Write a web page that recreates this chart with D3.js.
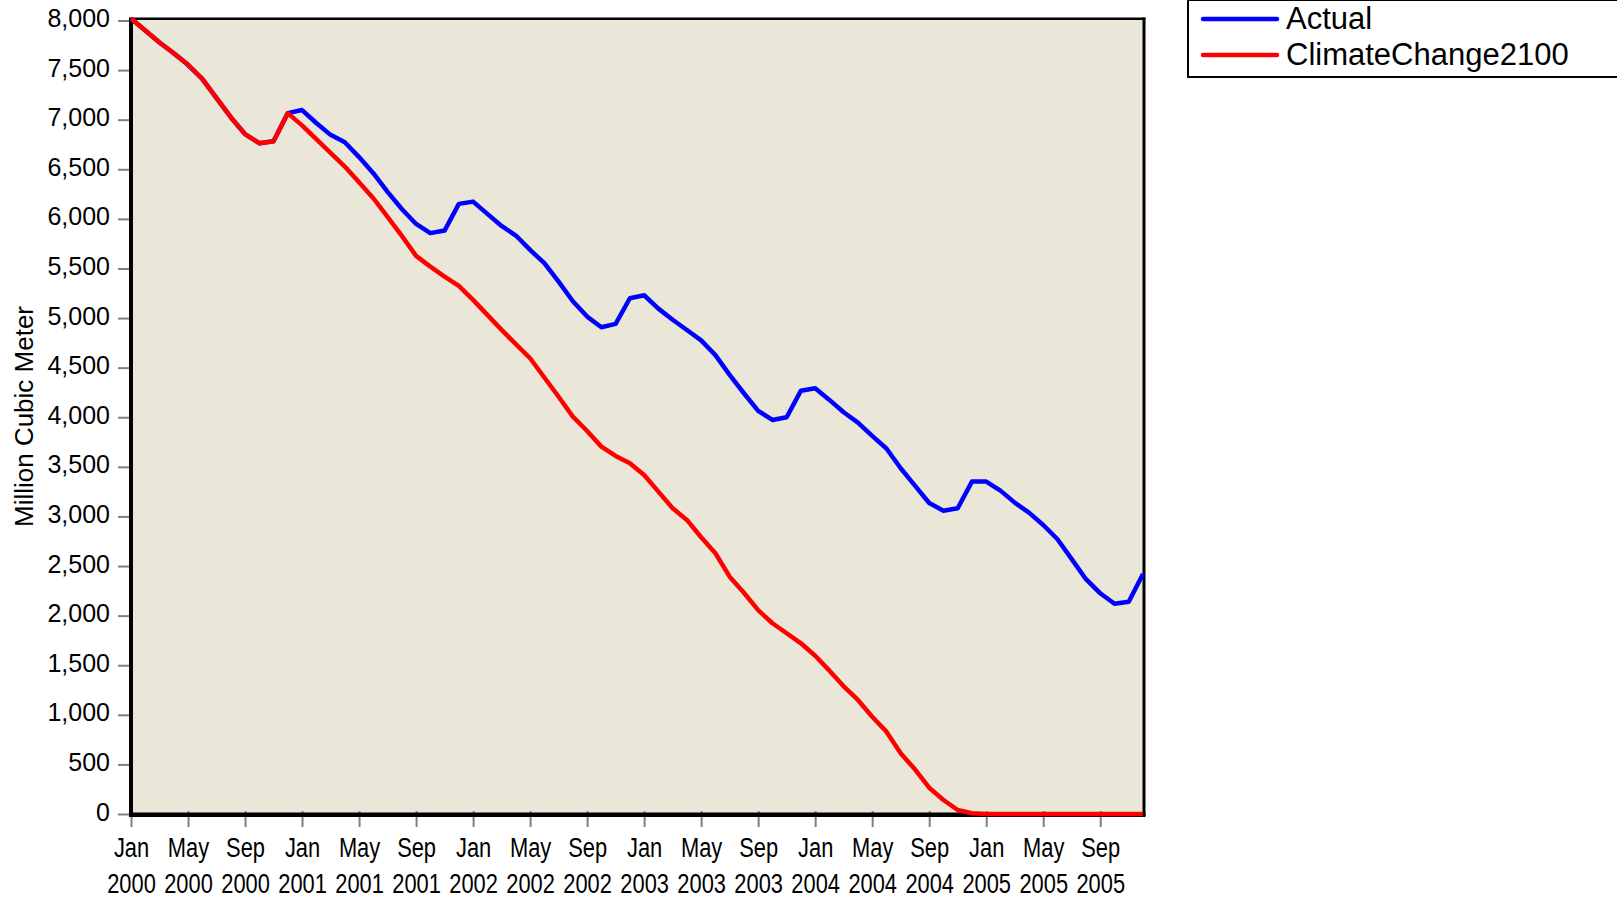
<!DOCTYPE html>
<html>
<head>
<meta charset="utf-8">
<script src="https://cdn.jsdelivr.net/npm/d3@7"></script>
<style>
  html, body { margin: 0; padding: 0; background: #fff; }
  svg { display: block; font-family: "Liberation Sans", Arial, Helvetica, sans-serif; }
</style>
</head>
<body>
<svg id="chart" width="1617" height="899"></svg>
<script>
// Monthly observations, Jan 2000 – Dec 2005
const months = d3.timeMonth
  .range(new Date(2000, 0, 1), new Date(2006, 0, 1))
  .map(d3.timeFormat("%Y-%m"));

// Reservoir storage, million cubic meters
const actual = [
  8020, 7899, 7778, 7670, 7553, 7412, 7217, 7025, 6854, 6763, 6783, 7066,
  7097, 6967, 6847, 6773, 6623, 6461, 6272, 6100, 5949, 5856, 5882, 6151,
  6174, 6050, 5929, 5832, 5687, 5553, 5368, 5170, 5015, 4908, 4941, 5200,
  5230, 5095, 4983, 4880, 4775, 4626, 4427, 4242, 4065, 3973, 4000, 4268,
  4292, 4175, 4050, 3946, 3812, 3685, 3486, 3310, 3135, 3058, 3082, 3351,
  3351, 3260, 3139, 3038, 2914, 2770, 2570, 2367, 2225, 2120, 2140, 2420
];

const climateChange2100 = [
  8020, 7899, 7778, 7670, 7553, 7412, 7217, 7025, 6854, 6763, 6783, 7066,
  6943, 6804, 6666, 6527, 6370, 6208, 6020, 5828, 5627, 5519, 5418, 5324,
  5183, 5032, 4881, 4737, 4595, 4401, 4207, 4006, 3861, 3704, 3610, 3536,
  3418, 3250, 3083, 2965, 2790, 2629, 2393, 2231, 2055, 1923, 1822, 1721,
  1595, 1445, 1287, 1150,  981,  830,  612,  450,  265,  141,   40,    7,
     0,    0,    0,    0,    0,    0,    0,    0,    0,    0,    0,    0
];

const yTicks = [0, 500, 1000, 1500, 2000, 2500, 3000, 3500, 4000,
                4500, 5000, 5500, 6000, 6500, 7000, 7500, 8000];

const xTicks = ["2000-01", "2000-05", "2000-09", "2001-01", "2001-05", "2001-09",
                "2002-01", "2002-05", "2002-09", "2003-01", "2003-05", "2003-09",
                "2004-01", "2004-05", "2004-09", "2005-01", "2005-05", "2005-09"];

const seriesNames = ["Actual", "ClimateChange2100"];
const seriesColors = ["#0000ff", "#ff0000"];

// Layout
const plot = { left: 131, right: 1143, top: 19, bottom: 814 };
const frameRight = 1144;

const svg = d3.select("#chart");

const x = d3.scalePoint().domain(months).range([plot.left, plot.right]).padding(0);
const y = d3.scaleLinear().domain([0, 8000]).range([plot.bottom, 20.5]);

// Plot background
svg.append("rect")
  .attr("x", plot.left).attr("y", plot.top)
  .attr("width", frameRight - plot.left).attr("height", plot.bottom - plot.top)
  .attr("fill", "#ebe7d8");

// Y axis
const yAxis = svg.append("g")
  .attr("transform", `translate(${plot.left},0)`)
  .call(d3.axisLeft(y).tickValues(yTicks).tickFormat(d3.format(",")).tickSize(13).tickPadding(0));
yAxis.select(".domain").remove();
yAxis.selectAll(".tick line").attr("stroke", "#808080").attr("stroke-width", 2);
yAxis.selectAll(".tick text")
  .attr("x", -21).attr("dy", null).attr("y", 6)
  .attr("fill", "#000").attr("font-size", 25)
  .attr("font-family", "'Liberation Sans', Arial, sans-serif")
  .attr("text-anchor", "end");

// X axis
const parseMonth = d3.timeParse("%Y-%m");
const xAxis = svg.append("g")
  .attr("transform", `translate(0,${plot.bottom})`)
  .call(d3.axisBottom(x).tickValues(xTicks).tickFormat("").tickSize(13));
xAxis.select(".domain").remove();
xAxis.selectAll(".tick line")
  .attr("y1", -3).attr("y2", 13)
  .attr("stroke", "#808080").attr("stroke-width", 2);
xAxis.selectAll(".tick text").remove();
const xLabel = xAxis.selectAll(".tick").append("text")
  .attr("transform", "scale(0.81,1)")
  .attr("text-anchor", "middle")
  .attr("fill", "#000")
  .attr("font-size", 27)
  .attr("font-family", "'Liberation Sans', Arial, sans-serif");
xLabel.append("tspan").attr("x", 0).attr("y", 43)
  .text(d => d3.timeFormat("%b")(parseMonth(d)));
xLabel.append("tspan").attr("x", 0).attr("y", 79)
  .text(d => d3.timeFormat("%Y")(parseMonth(d)));

// Frame
svg.append("line").attr("x1", plot.left).attr("x2", frameRight + 1.5)
  .attr("y1", 18.7).attr("y2", 18.7).attr("stroke", "#000").attr("stroke-width", 2.5);
svg.append("line").attr("x1", frameRight).attr("x2", frameRight)
  .attr("y1", 17.5).attr("y2", plot.bottom + 2).attr("stroke", "#000").attr("stroke-width", 3);
svg.append("line").attr("x1", plot.left).attr("x2", plot.left)
  .attr("y1", 17.5).attr("y2", plot.bottom + 2.5).attr("stroke", "#000").attr("stroke-width", 4);
svg.append("line").attr("x1", plot.left - 2).attr("x2", frameRight + 1.5)
  .attr("y1", plot.bottom + 0.7).attr("y2", plot.bottom + 0.7).attr("stroke", "#000").attr("stroke-width", 4.5);

// Series lines (Actual beneath, scenario on top)
const line = d3.line()
  .x((d, i) => x(months[i]))
  .y(d => y(d));

[actual, climateChange2100].forEach((vals, k) => {
  svg.append("path")
    .datum(vals)
    .attr("d", line)
    .attr("fill", "none")
    .attr("stroke", seriesColors[k])
    .attr("stroke-width", 4.5)
    .attr("stroke-linejoin", "round");
});

// Y axis title
svg.append("text")
  .attr("transform", `translate(33,${(plot.top + plot.bottom) / 2}) rotate(-90)`)
  .attr("text-anchor", "middle")
  .attr("font-size", 26)
  .attr("fill", "#000")
  .text("Million Cubic Meter");

// Legend
const legend = svg.append("g");
legend.append("rect")
  .attr("x", 1188).attr("y", 0)
  .attr("width", 470).attr("height", 77)
  .attr("fill", "#fff").attr("stroke", "#000").attr("stroke-width", 2);
seriesNames.forEach((name, k) => {
  const ly = 19 + k * 36;
  legend.append("line")
    .attr("x1", 1203).attr("x2", 1277)
    .attr("y1", ly).attr("y2", ly)
    .attr("stroke", seriesColors[k]).attr("stroke-width", 4.5)
    .attr("stroke-linecap", "round");
  legend.append("text")
    .attr("x", 1286).attr("y", ly + 10)
    .attr("font-size", 31)
    .attr("fill", "#000")
    .text(name);
});
</script>
</body>
</html>
